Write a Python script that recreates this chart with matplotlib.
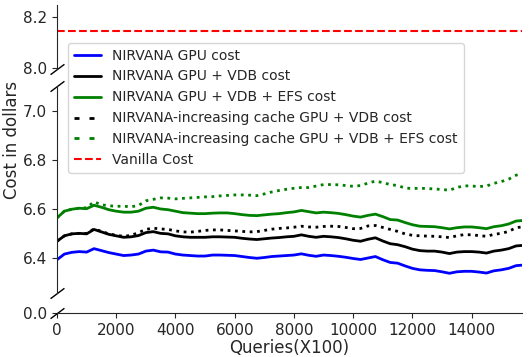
import numpy as np
import matplotlib
matplotlib.use('Agg')
import matplotlib.pyplot as plt
from matplotlib.lines import Line2D
import seaborn as sns

sns.set_style('ticks')
plt.rcParams['font.family'] = ['DejaVu Sans']

# queries (x100)
queries = [0, 250, 500, 750, 1000, 1250, 1500, 1750, 2000, 2250, 2500, 2750,
           3000, 3250, 3500, 3750, 4000, 4250, 4500, 4750, 5000, 5250, 5500, 5750,
           6000, 6250, 6500, 6750, 7000, 7250, 7500, 7750, 8000, 8250, 8500, 8750,
           9000, 9250, 9500, 9750, 10000, 10250, 10500, 10750, 11000, 11250, 11500,
           11750, 12000, 12250, 12500, 12750, 13000, 13250, 13500, 13750, 14000,
           14250, 14500, 14750, 15000, 15250, 15500, 15700]

gpu_cost = [6.395, 6.418, 6.425, 6.428, 6.426, 6.440, 6.432, 6.424, 6.418, 6.412,
            6.414, 6.418, 6.430, 6.434, 6.427, 6.426, 6.418, 6.414, 6.412, 6.410,
            6.410, 6.414, 6.414, 6.413, 6.412, 6.408, 6.404, 6.401, 6.404, 6.408,
            6.410, 6.412, 6.414, 6.419, 6.413, 6.409, 6.414, 6.412, 6.409, 6.405,
            6.400, 6.396, 6.402, 6.408, 6.395, 6.384, 6.381, 6.370, 6.360, 6.354,
            6.352, 6.351, 6.346, 6.340, 6.346, 6.348, 6.348, 6.345, 6.341, 6.350,
            6.354, 6.360, 6.371, 6.373]

gpu_vdb_cost = [6.470, 6.492, 6.500, 6.502, 6.500, 6.518, 6.508, 6.498, 6.492, 6.486,
                6.488, 6.493, 6.505, 6.509, 6.502, 6.500, 6.492, 6.488, 6.486, 6.486,
                6.486, 6.488, 6.488, 6.487, 6.486, 6.482, 6.479, 6.477, 6.480, 6.483,
                6.485, 6.488, 6.490, 6.496, 6.490, 6.486, 6.490, 6.488, 6.485, 6.480,
                6.474, 6.470, 6.478, 6.484, 6.471, 6.460, 6.456, 6.448, 6.438, 6.432,
                6.430, 6.430, 6.426, 6.420, 6.426, 6.428, 6.428, 6.426, 6.422, 6.430,
                6.434, 6.440, 6.451, 6.453]

gpu_vdb_efs_cost = [6.565, 6.592, 6.600, 6.604, 6.602, 6.616, 6.608, 6.598, 6.592, 6.588,
                    6.588, 6.592, 6.604, 6.608, 6.601, 6.598, 6.592, 6.586, 6.584, 6.582,
                    6.582, 6.584, 6.585, 6.585, 6.582, 6.578, 6.575, 6.574, 6.577, 6.580,
                    6.582, 6.586, 6.589, 6.595, 6.590, 6.585, 6.588, 6.586, 6.583, 6.578,
                    6.572, 6.568, 6.575, 6.580, 6.570, 6.558, 6.556, 6.546, 6.537, 6.531,
                    6.530, 6.529, 6.525, 6.520, 6.525, 6.528, 6.528, 6.525, 6.521, 6.529,
                    6.533, 6.540, 6.552, 6.554]

inc_gpu_vdb_cost = [6.470, 6.492, 6.500, 6.502, 6.502, 6.520, 6.510, 6.500, 6.494, 6.490,
                    6.494, 6.505, 6.518, 6.523, 6.520, 6.518, 6.512, 6.508, 6.507, 6.510,
                    6.514, 6.516, 6.516, 6.514, 6.512, 6.510, 6.508, 6.509, 6.514, 6.519,
                    6.522, 6.524, 6.527, 6.531, 6.528, 6.527, 6.530, 6.531, 6.530, 6.526,
                    6.521, 6.522, 6.532, 6.534, 6.526, 6.518, 6.510, 6.500, 6.494, 6.492,
                    6.491, 6.490, 6.488, 6.485, 6.492, 6.497, 6.496, 6.493, 6.490, 6.498,
                    6.502, 6.510, 6.525, 6.528]

inc_gpu_vdb_efs_cost = [6.565, 6.592, 6.600, 6.604, 6.606, 6.630, 6.618, 6.614, 6.612, 6.612,
                        6.610, 6.615, 6.634, 6.640, 6.646, 6.645, 6.642, 6.644, 6.646, 6.648,
                        6.650, 6.651, 6.654, 6.656, 6.658, 6.658, 6.657, 6.655, 6.662, 6.670,
                        6.676, 6.681, 6.685, 6.688, 6.688, 6.694, 6.700, 6.700, 6.699, 6.696,
                        6.693, 6.696, 6.706, 6.714, 6.708, 6.700, 6.696, 6.686, 6.684, 6.685,
                        6.684, 6.682, 6.680, 6.677, 6.688, 6.695, 6.694, 6.692, 6.694, 6.705,
                        6.712, 6.722, 6.738, 6.745]

vanilla_cost = 8.145

W, H = 532, 357
fig = plt.figure(figsize=(W / 100, H / 100), dpi=100)

left = 57 / W
width = 465 / W
ax_top = fig.add_axes([left, 1 - 69 / H, width, 64 / H])
ax_mid = fig.add_axes([left, 1 - 293 / H, width, 207 / H], sharex=ax_top)
ax_bot = fig.add_axes([left, 1 - 313 / H, width, 4 / H], sharex=ax_top)

lw = 2
for ax in (ax_top, ax_mid, ax_bot):
    ax.plot(queries, gpu_cost, color='blue', lw=lw)
    ax.plot(queries, gpu_vdb_cost, color='black', lw=lw)
    ax.plot(queries, gpu_vdb_efs_cost, color='green', lw=lw)
    ax.plot(queries, inc_gpu_vdb_cost, color='black', lw=lw, ls=':')
    ax.plot(queries, inc_gpu_vdb_efs_cost, color='green', lw=lw, ls=':')
    ax.axhline(vanilla_cost, color='red', lw=1.5, ls='--')

ax_top.set_ylim(7.995, 8.245)
ax_mid.set_ylim(6.26, 7.1)
ax_bot.set_ylim(0, 0.01)
ax_top.set_xlim(0, 15700)

ax_top.set_yticks([8.0, 8.2])
ax_mid.set_yticks([6.4, 6.6, 6.8, 7.0])
ax_bot.set_yticks([0.0])
ax_top.set_yticklabels(['8.0', '8.2'])
ax_mid.set_yticklabels(['6.4', '6.6', '6.8', '7.0'])
ax_bot.set_yticklabels(['0.0'])
ax_bot.set_xticks(range(0, 15000, 2000))

for ax in (ax_top, ax_mid):
    ax.spines['bottom'].set_visible(False)
    ax.tick_params(axis='x', bottom=False, labelbottom=False)
for ax in (ax_top, ax_mid, ax_bot):
    ax.spines['top'].set_visible(False)
    ax.spines['right'].set_visible(False)
    ax.tick_params(labelsize=11)
ax_bot.spines['left'].set_visible(False)

# break marks on the left spine
kw = dict(marker=[(-1, -0.75), (1, 0.75)], markersize=10, linestyle='none',
          color='k', mec='k', mew=1, clip_on=False)
ax_top.plot([0], [0], transform=ax_top.transAxes, **kw)
ax_mid.plot([0, 0], [0, 1], transform=ax_mid.transAxes, **kw)
ax_bot.plot([0], [0], transform=ax_bot.transAxes, **kw)

ax_bot.set_xlabel('Queries(X100)', fontsize=12, labelpad=1)
fig.text(0.005, 1 - 140 / H, 'Cost in dollars', rotation=90, fontsize=12,
         va='center', ha='left')

# legend handles (the dotted series show as sparse dashes in the legend)
sparse = (0, (1.8, 3.6))
handles = [
    Line2D([], [], color='blue', lw=lw, label='NIRVANA GPU cost'),
    Line2D([], [], color='black', lw=lw, label='NIRVANA GPU + VDB cost'),
    Line2D([], [], color='green', lw=lw, label='NIRVANA GPU + VDB + EFS cost'),
    Line2D([], [], color='black', lw=lw, ls=sparse,
           label='NIRVANA-increasing cache GPU + VDB cost'),
    Line2D([], [], color='green', lw=lw, ls=sparse,
           label='NIRVANA-increasing cache GPU + VDB + EFS cost'),
    Line2D([], [], color='red', lw=1.5, ls='--', label='Vanilla Cost'),
]
fig.legend(handles=handles, loc='upper left', bbox_to_anchor=(68 / W, 1 - 43 / H),
           fontsize=10, frameon=True, borderaxespad=0)

fig.savefig('out.png', dpi=100)
